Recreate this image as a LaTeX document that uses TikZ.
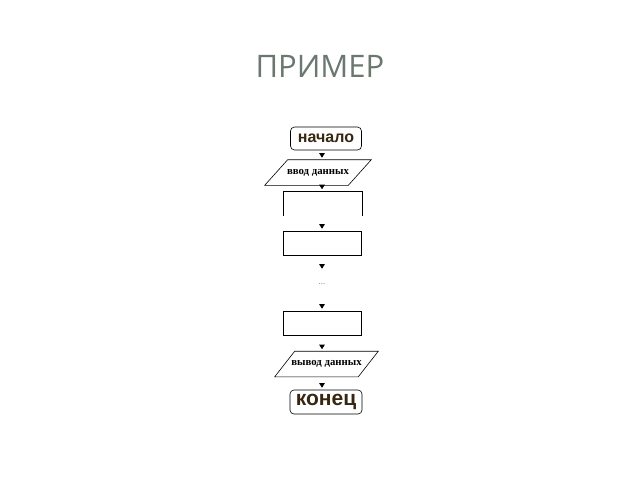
\documentclass[tikz,border=0pt]{standalone}
\usepackage{fontspec}
\setmainfont{Liberation Serif}
\newfontfamily\titlefont{Open Sans}
\newfontfamily\termfont{Liberation Sans}
\usetikzlibrary{arrows.meta}
\definecolor{titlegray}{RGB}{106,120,112}
\definecolor{termbrown}{RGB}{55,38,18}
\tikzset{
    term/.style = {draw, rounded corners=4pt, minimum width=71pt, minimum height=23pt, inner sep=0pt},
    io/.style = {minimum width=83pt, minimum height=25pt, inner sep=0pt, font=\bfseries\fontsize{10.8}{12}\selectfont},
    proc/.style = {minimum width=78pt, minimum height=24pt, inner sep=0pt},
    flow/.style = {draw=white, shorten <=1pt, shorten >=2pt, -{Triangle[black, length=4.5pt, width=5.5pt]}}
}
\newcommand{\slantbox}[2]{%
    \draw ([xshift=#2]#1.north west) -- ([xshift=#2]#1.north east) -- ([xshift=-#2]#1.south east) -- ([xshift=-#2]#1.south west) -- cycle;}
\begin{document}
\begin{tikzpicture}[x=1pt, y=-1pt, line width=0.6pt]
        \useasboundingbox (0,0) rectangle (640,480);
        \node[anchor=base, text=titlegray, font=\titlefont\fontsize{31}{31}\selectfont] (title) at (320,77) {ПРИМЕР};
        \coordinate (axis) at (322,0);
        \node[term, text=termbrown, font=\termfont\bfseries\fontsize{16}{16}\selectfont] (start) at (326,138.5) {начало};
        \node[io] (in) at (318,172.5) {ввод данных};
        \slantbox{in}{11.5pt}
        \node[proc] (r1) at (322.5,203.5) {};
        \draw (r1.south west) -- (r1.north west) -- (r1.north east) -- (r1.south east);
        \node[proc, draw] (r2) at (322,243) {};
        \node[minimum height=26pt, text=gray, font=\fontsize{9}{9}\selectfont] (dots) at (322,284) {...};
        \node[proc, draw] (r3) at (322,323) {};
        \node[io] (out) at (326.5,364) {вывод данных};
        \slantbox{out}{10pt}
        \node[term, minimum width=72pt, minimum height=24pt, text=termbrown, font=\termfont\bfseries\fontsize{21}{21}\selectfont] (end) at (326,402) {конец};
        % arrows only show their heads
        \draw[flow] (start.south -| axis) -- (in.north -| axis);
        \draw[flow] (in.south -| axis) -- (r1.north -| axis);
        \draw[flow] (r1.south -| axis) -- (r2.north -| axis);
        \draw[flow] (r2.south -| axis) -- (dots.north -| axis);
        \draw[flow] (dots.south -| axis) -- (r3.north -| axis);
        \draw[flow] (r3.south -| axis) -- (out.north -| axis);
        \draw[flow] (out.south -| axis) -- (end.north -| axis);
\end{tikzpicture}
\end{document}
